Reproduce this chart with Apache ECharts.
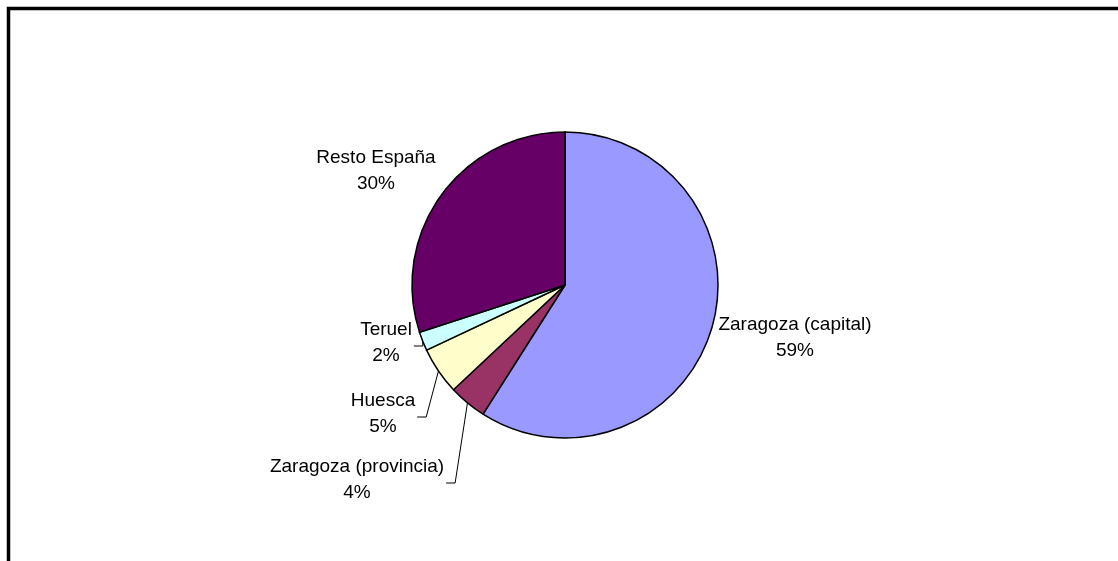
<!DOCTYPE html>
<html>
<head>
<meta charset="utf-8">
<title>Procedencia</title>
<script src="https://cdn.jsdelivr.net/npm/echarts@6/dist/echarts.min.js"></script>
<style>
  html, body { margin: 0; padding: 0; background: #ffffff; }
  #chart { width: 1118px; height: 561px; }
</style>
</head>
<body>
<div id="chart"></div>
<script>
// Origin of respondents, share in percent
const categories = ['Zaragoza (capital)', 'Zaragoza (provincia)', 'Huesca', 'Teruel', 'Resto España'];
const values = [59, 4, 5, 2, 30];
const colors = ['#9999FF', '#993366', '#FFFFCC', '#CCFFFF', '#660066'];

// Label anchor (block centre) for each slice
const labelPos = {
  'Zaragoza (capital)': [795, 338],
  'Zaragoza (provincia)': [357, 480],
  'Huesca': [383, 414],
  'Teruel': [386, 343],
  'Resto España': [376, 171]
};
const withLeader = { 'Zaragoza (provincia)': true, 'Huesca': true, 'Teruel': true };

const chart = echarts.init(document.getElementById('chart'), null, { renderer: 'canvas' });

chart.setOption({
  animation: false,
  backgroundColor: '#ffffff',
  graphic: [{
    type: 'rect',
    shape: { x: 8.5, y: 8.5, width: 1300, height: 800 },
    style: { fill: 'none', stroke: '#000000', lineWidth: 3.5 },
    silent: true
  }],
  series: [{
    type: 'pie',
    center: [565, 285],
    radius: 153,
    startAngle: 90,
    clockwise: true,
    avoidLabelOverlap: false,
    itemStyle: { borderColor: '#000000', borderWidth: 1.5 },
    label: {
      show: true,
      position: 'outside',
      fontFamily: 'Liberation Sans, Arial, sans-serif',
      fontSize: 19,
      lineHeight: 26,
      color: '#000000',
      align: 'center',
      formatter: p => p.name + '\n' + Math.round(p.percent) + '%'
    },
    labelLine: {
      show: true,
      length: 10,
      length2: 10,
      smooth: false,
      lineStyle: { color: '#000000', width: 1 }
    },
    emphasis: { disabled: true },
    labelLayout: function (params) {
      const name = categories[params.dataIndex];
      const pos = labelPos[name];
      const out = { x: pos[0], y: pos[1], align: 'center', verticalAlign: 'middle' };
      if (withLeader[name] && params.labelLinePoints) {
        const start = params.labelLinePoints[0];
        const right = pos[0] + params.labelRect.width / 2;
        out.labelLinePoints = [start, [right + 11, pos[1] + 3], [right + 2, pos[1] + 3]];
      }
      return out;
    },
    data: categories.map((name, i) => ({
      name: name,
      value: values[i],
      itemStyle: { color: colors[i] },
      labelLine: { show: !!withLeader[name] }
    }))
  }]
});
</script>
</body>
</html>
